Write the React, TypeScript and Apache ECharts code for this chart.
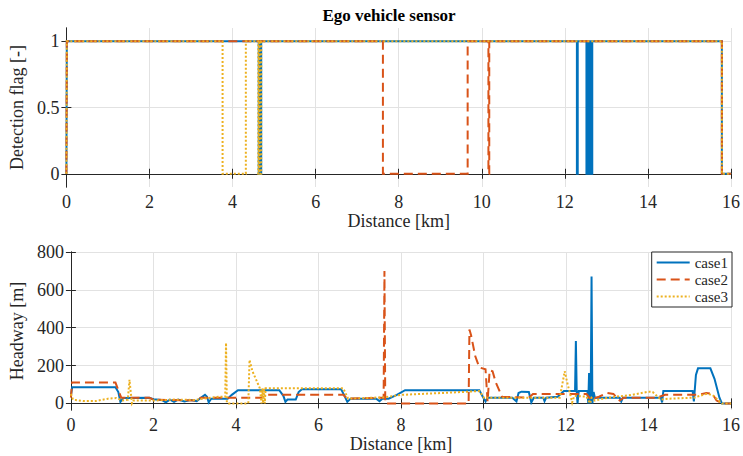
import React, { useEffect, useRef } from "react";
import * as echarts from "echarts";

// ---------- Data ----------
const xTicks = [0, 2, 4, 6, 8, 10, 12, 14, 16];
const flagTicks = [0, 0.5, 1];
const headwayTicks = [0, 200, 400, 600, 800];
const seriesNames = ["case1", "case2", "case3"];

// Detection flag (top panel), breakpoints [km], [-]
const case1FlagX = [0, 0.01, 4.63, 4.63, 4.65, 4.65, 4.67, 4.67, 4.69, 4.69, 12.29, 12.29, 12.31, 12.31, 12.52, 12.52, 12.55, 12.55, 12.58, 12.58, 12.61, 12.61, 12.64, 12.64, 12.66, 12.66, 15.78, 15.78, 16];
const case1FlagY = [0, 1, 1, 0, 0, 1, 1, 0, 0, 1, 1, 0, 0, 1, 1, 0, 0, 1, 1, 0, 0, 1, 1, 0, 0, 1, 1, 0, 0];
const case2FlagX = [0, 0.01, 7.62, 7.62, 9.66, 9.66, 10.16, 10.16, 10.18, 10.18, 15.78, 15.78, 16];
const case2FlagY = [0, 1, 1, 0, 0, 1, 1, 0, 0, 1, 1, 0, 0];
const case3FlagX = [0, 0.01, 3.76, 3.76, 4.32, 4.32, 4.62, 4.62, 4.64, 4.64, 4.66, 4.66, 4.69, 4.69, 15.78, 15.78, 16];
const case3FlagY = [0, 1, 1, 0, 0, 1, 1, 0, 0, 1, 1, 0, 0, 1, 1, 0, 0];

// Headway (bottom panel), [km], [m]
const case1HeadX = [0, 0.03, 1.08, 1.15, 1.2, 1.27, 1.9, 2.0, 2.2, 2.3, 2.4, 2.5, 2.6, 2.75, 2.9, 3.05, 3.15, 3.25, 3.3, 3.34, 3.4, 3.8, 3.9, 4.05, 5.05, 5.15, 5.2, 5.25, 5.45, 5.52, 5.6, 6.55, 6.62, 6.7, 6.78, 7.4, 7.48, 7.55, 7.7, 7.9, 8.1, 9.9, 9.97, 10.05, 10.1, 10.7, 10.8, 10.85, 10.92, 11.1, 11.16, 11.22, 11.45, 11.48, 11.52, 11.8, 11.95, 12.22, 12.24, 12.26, 12.28, 12.31, 12.52, 12.54, 12.56, 12.58, 12.6, 12.62, 12.64, 12.67, 12.7, 13.3, 13.34, 13.38, 14.3, 14.33, 14.36, 15.07, 15.1, 15.15, 15.2, 15.5, 15.6, 15.72, 15.78, 16];
const case1HeadY = [40, 85, 85, 60, 8, 28, 30, 22, 18, 5, 20, 8, 20, 10, 18, 12, 30, 45, 35, 5, 25, 25, 45, 70, 70, 40, 8, 20, 20, 60, 75, 75, 45, 8, 25, 25, 12, 25, 25, 45, 70, 70, 40, 10, 30, 30, 10, 55, 62, 60, 5, 30, 30, 12, 30, 35, 65, 65, 330, 65, 0, 65, 65, 0, 160, 0, 30, 670, 0, 60, 30, 30, 10, 30, 30, 5, 65, 65, 10, 150, 185, 185, 130, 30, 0, 0];
const case2HeadX = [0, 0.03, 1.08, 1.15, 1.22, 1.9, 2.0, 3.05, 3.15, 3.9, 4.62, 4.7, 6.6, 6.7, 7.58, 7.6, 7.62, 9.64, 9.66, 9.7, 9.8, 9.9, 10.05, 10.1, 10.15, 10.22, 10.3, 10.45, 11.1, 11.2, 11.9, 12.5, 12.6, 12.8, 13.0, 13.15, 13.3, 13.4, 14.2, 14.4, 15.2, 15.4, 15.55, 15.65, 15.75, 15.8, 16];
const case2HeadY = [30, 110, 110, 70, 30, 30, 20, 15, 30, 30, 30, 45, 45, 25, 30, 700, 0, 0, 390, 360, 250, 190, 180, 10, 175, 170, 110, 35, 30, 50, 50, 50, 20, 35, 55, 50, 15, 30, 30, 45, 45, 55, 50, 15, 5, 0, 0];
const case3HeadX = [0, 0.05, 0.3, 0.6, 0.9, 1.1, 1.25, 1.38, 1.42, 1.45, 1.48, 1.52, 2.0, 2.5, 3.0, 3.3, 3.6, 3.74, 3.76, 3.78, 3.82, 4.3, 4.33, 4.4, 4.5, 4.58, 4.62, 4.64, 4.66, 4.68, 4.7, 4.72, 6.6, 6.72, 7.6, 8.0, 9.0, 9.64, 9.9, 10.02, 10.1, 11.85, 11.97, 12.03, 12.1, 12.15, 12.2, 12.5, 12.58, 12.62, 12.7, 12.9, 13.2, 13.6, 14.0, 14.1, 14.3, 14.5, 15.1, 15.4, 15.55, 15.7, 15.78, 16];
const case3HeadY = [50, 20, 12, 12, 25, 28, 15, 20, 125, 60, 0, 15, 15, 20, 18, 28, 35, 35, 320, 5, 0, 0, 230, 170, 120, 80, 0, 80, 0, 80, 0, 80, 80, 25, 32, 45, 55, 62, 65, 28, 30, 30, 170, 110, 50, 5, 40, 35, 0, 30, 15, 25, 35, 45, 62, 60, 20, 25, 30, 50, 45, 15, 0, 0];

// ---------- Styling ----------
const FONT = "Liberation Serif";
const AXIS_COLOR = "#262626";
const GRID_COLOR = "#e2e2e2";
const COLORS = ["#0072BD", "#D95319", "#EDB120"];
const LINE_TYPES: any[] = ["solid", [9, 5], [2, 2]];

const zip = (xs: number[], ys: number[]) => xs.map((x, i) => [x, ys[i]]);

export default function App() {
  const ref = useRef<HTMLDivElement>(null);

  useEffect(() => {
    if (!ref.current) return;
    const chart = echarts.init(ref.current, undefined, { renderer: "svg" });

    const labelStyle = { fontFamily: FONT, fontSize: 18, color: AXIS_COLOR };
    const tick = { show: true, inside: true, length: 5, lineStyle: { color: AXIS_COLOR, width: 1 } };
    const line = { show: true, lineStyle: { color: AXIS_COLOR, width: 1 } };

    const xMain = (gridIndex: number, nameGap: number) => ({
      type: "value",
      gridIndex,
      min: xTicks[0],
      max: xTicks[xTicks.length - 1],
      interval: 2,
      axisLine: line,
      axisTick: tick,
      axisLabel: { ...labelStyle, margin: 6 },
      splitLine: { show: true, lineStyle: { color: GRID_COLOR, width: 1 } },
      name: "Distance [km]",
      nameLocation: "middle",
      nameGap,
      nameTextStyle: labelStyle,
    });
    const xTop = (gridIndex: number) => ({
      type: "value",
      gridIndex,
      position: "top",
      min: xTicks[0],
      max: xTicks[xTicks.length - 1],
      interval: 2,
      axisLine: line,
      axisTick: tick,
      axisLabel: { show: false },
      splitLine: { show: false },
    });
    const yMain = (gridIndex: number, min: number, max: number, ticks: number[], name: string) => ({
      type: "value",
      gridIndex,
      min,
      max,
      axisLine: line,
      axisTick: { ...tick, customValues: ticks },
      axisLabel: { ...labelStyle, margin: 7, customValues: ticks },
      splitLine: { show: true, lineStyle: { color: GRID_COLOR, width: 1 } },
      name,
      nameLocation: "middle",
      nameGap: 37,
      nameTextStyle: labelStyle,
    });
    const yRight = (gridIndex: number, min: number, max: number, ticks: number[]) => ({
      type: "value",
      gridIndex,
      position: "right",
      min,
      max,
      axisLine: line,
      axisTick: { ...tick, customValues: ticks },
      axisLabel: { show: false, customValues: ticks },
      splitLine: { show: false },
    });

    const flags = [zip(case1FlagX, case1FlagY), zip(case2FlagX, case2FlagY), zip(case3FlagX, case3FlagY)];
    const heads = [zip(case1HeadX, case1HeadY), zip(case2HeadX, case2HeadY), zip(case3HeadX, case3HeadY)];

    const mkSeries = (data: number[][], i: number, axisIndex: number) => ({
      type: "line",
      name: seriesNames[i],
      xAxisIndex: axisIndex,
      yAxisIndex: axisIndex,
      data,
      symbol: "none",
      showSymbol: false,
      silent: true,
      z: 2 + i,
      lineStyle: { color: COLORS[i], width: 2, type: LINE_TYPES[i], cap: "butt", join: "miter" },
      itemStyle: { color: COLORS[i] },
    });

    const option: any = {
      animation: false,
      backgroundColor: "#ffffff",
      textStyle: { fontFamily: FONT },
      grid: [
        { left: 65, right: 11, top: 28, height: 159 },
        { left: 65, right: 11, top: 252, height: 158 },
      ],
      xAxis: [xMain(0, 22), xMain(1, 21), xTop(0), xTop(1)],
      yAxis: [
        yMain(0, -0.1, 1.1, flagTicks, "Detection flag [-]"),
        yMain(1, -35, 800, headwayTicks, "Headway [m]"),
        yRight(0, -0.1, 1.1, flagTicks),
        yRight(1, -35, 800, headwayTicks),
      ],
      legend: {
        data: seriesNames,
        orient: "vertical",
        right: 11,
        top: 252,
        backgroundColor: "#ffffff",
        borderColor: AXIS_COLOR,
        borderWidth: 1,
        borderRadius: 0,
        padding: [3, 4, 3, 4],
        itemWidth: 33,
        itemHeight: 10,
        itemGap: 2,
        itemStyle: { opacity: 0, borderWidth: 0 },
        textStyle: { fontFamily: FONT, fontSize: 15, color: AXIS_COLOR },
        selectedMode: false,
      },
      graphic: [
        {
          type: "text",
          x: 389,
          y: 15,
          style: {
            text: "Ego vehicle sensor",
            font: `bold 17px ${FONT}`,
            fill: "#000000",
            textAlign: "center",
            textVerticalAlign: "middle",
          },
        },
      ],
      series: [
        ...flags.map((d, i) => mkSeries(d, i, 0)),
        ...heads.map((d, i) => mkSeries(d, i, 1)),
      ],
    };

    chart.setOption(option);
    return () => chart.dispose();
  }, []);

  return (
    <div
      ref={ref}
      style={{ position: "fixed", left: 0, top: 0, width: 743, height: 456, background: "#fff" }}
    />
  );
}
